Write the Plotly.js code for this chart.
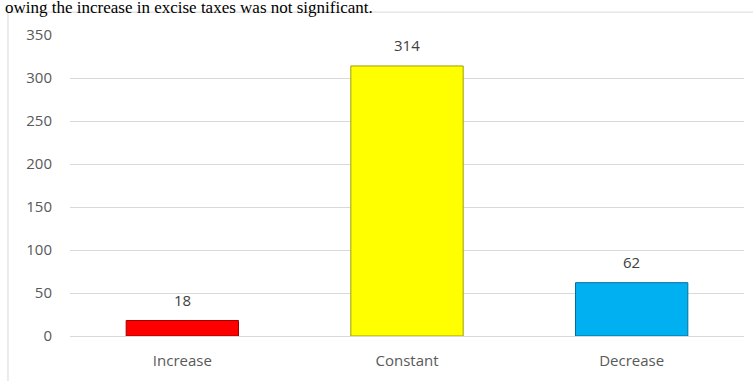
<!DOCTYPE html>
<html><head><meta charset="utf-8">
<script src="https://cdn.plot.ly/plotly-3.0.1.min.js"></script>
<style>html,body{margin:0;padding:0;background:#fff;}</style>
</head><body>
<div id="chart" style="width:753px;height:381px;"></div>
<script>
const categories = ["Increase", "Constant", "Decrease"];
const values = [18, 314, 62];
const barColors = ["#FF0000", "#FFFF00", "#00B0F0"];
const barLines = ["#A00000", "#A0A000", "#00709A"];
const yTicks = [0, 50, 100, 150, 200, 250, 300, 350];
const captionText = "owing the increase in excise taxes was not significant.";

const trace = {
  type: "bar",
  x: categories,
  y: values,
  width: 0.5,
  marker: {color: barColors, line: {color: barLines, width: 1}},
  hoverinfo: "none"
};

const annotations = categories.map((c, i) => ({
  x: c, y: values[i], xref: "x", yref: "y",
  text: String(values[i]), showarrow: false,
  yanchor: "bottom", yshift: 9,
  font: {family: "Open Sans, sans-serif", size: 15, color: "#404040"}
}));
annotations.push({
  x: -0.1, y: 1.092, xref: "paper", yref: "paper",
  xanchor: "left", yanchor: "middle", showarrow: false,
  text: captionText,
  font: {family: "Liberation Serif, serif", size: 17, color: "#000"}
});

const layout = {
  width: 753, height: 381,
  margin: {l: 70, r: 9, t: 35, b: 45},
  paper_bgcolor: "#fff", plot_bgcolor: "#fff",
  showlegend: false,
  bargap: 0.5,
  xaxis: {
    type: "category", showgrid: false, zeroline: false, showline: false,
    ticks: "", ticklen: 0, ticklabelstandoff: 14,
    tickfont: {family: "Open Sans, sans-serif", size: 15, color: "#595959"}
  },
  yaxis: {
    range: [0, 350], tickvals: yTicks, showgrid: true, gridcolor: "#D9D9D9",
    gridwidth: 1, zeroline: true, zerolinecolor: "#D9D9D9", showline: false,
    ticks: "", ticklabelstandoff: 17,
    tickfont: {family: "Open Sans, sans-serif", size: 15, color: "#595959"}
  },
  annotations: annotations,
  shapes: [{
    type: "rect", xref: "paper", yref: "paper",
    x0: -0.092, x1: 1.05, y0: -0.3, y1: 1.076,
    line: {color: "#D9D9D9", width: 1}, fillcolor: "rgba(0,0,0,0)", layer: "below"
  }]
};

Plotly.newPlot("chart", [trace], layout, {staticPlot: true});
</script>
</body></html>
